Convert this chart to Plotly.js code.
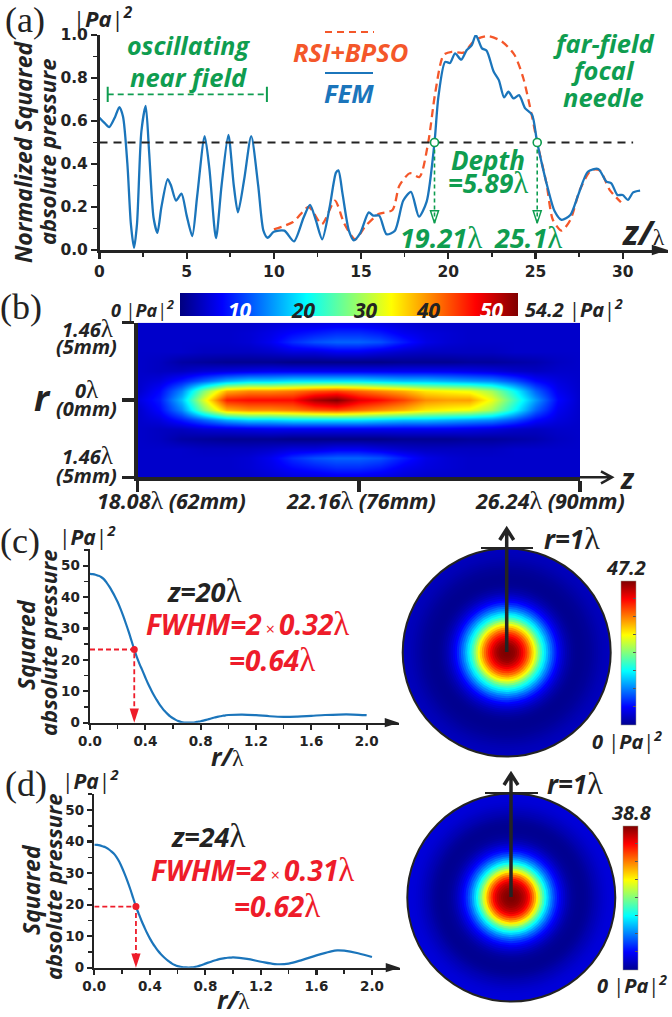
<!DOCTYPE html>
<html><head><meta charset="utf-8">
<script src="https://cdn.plot.ly/plotly-3.0.1.min.js"></script>
<style>html,body{margin:0;padding:0;background:#fff}</style></head>
<body><div id="chart" style="width:672px;height:1017px"></div>
<script>
// ---------- panel (a)
const femZ=[0,0.3,0.56,0.9,1.14,1.35,1.6,1.8,1.98,2.15,2.4,2.65,2.85,3.1,3.32,3.55,3.91,4.1,4.39,4.7,5.0,5.32,5.6,6.03,6.3,6.68,7.0,7.39,7.7,7.94,8.3,8.7,9.1,9.4,9.64,10,10.6,11.15,11.7,12.07,12.4,12.77,13.2,13.56,13.7,13.94,14.3,14.58,14.96,15.44,15.7,16.04,16.46,16.94,17.42,17.86,18.32,18.76,19.21,19.43,19.82,20.1,20.39,20.74,21.06,21.35,21.58,21.93,22.2,22.6,22.9,23.2,23.45,23.74,24.06,24.4,24.8,25.1,25.73,26.1,26.5,27,27.45,28,28.6,29.07,29.35,29.7,30,30.3,30.6,31];
const femP=[0.615,0.59,0.572,0.62,0.665,0.62,0.4,0.12,0.01,0.12,0.55,0.67,0.45,0.15,0.08,0.2,0.33,0.3,0.23,0.262,0.16,0.065,0.25,0.53,0.38,0.055,0.3,0.535,0.3,0.175,0.33,0.53,0.3,0.09,0.057,0.085,0.09,0.04,0.15,0.21,0.14,0.05,0.2,0.36,0.37,0.26,0.09,0.045,0.08,0.175,0.16,0.16,0.073,0.09,0.23,0.27,0.155,0.225,0.5,0.71,0.875,0.87,0.915,0.885,0.93,0.953,1.0,0.938,0.927,0.83,0.79,0.71,0.736,0.705,0.72,0.66,0.63,0.5,0.28,0.18,0.14,0.163,0.256,0.364,0.377,0.318,0.31,0.256,0.256,0.233,0.268,0.276];
const rsiZ=[10,11.1,12,12.75,13.5,14.03,14.66,15.24,16,16.8,17.2,17.8,18.35,18.85,19.25,19.73,20.2,20.87,21.54,22.3,23.07,23.8,24.3,24.78,25.1,25.63,26,26.5,27,27.55,28.2,28.7,29.25,29.9];
const rsiP=[0.096,0.13,0.2,0.12,0.23,0.124,0.05,0.11,0.167,0.186,0.3,0.357,0.34,0.5,0.73,0.907,0.922,0.918,0.977,0.995,0.97,0.907,0.8,0.63,0.5,0.31,0.14,0.09,0.14,0.28,0.372,0.369,0.28,0.222];
const halfLevelZ=[0,30.6], halfLevelP=[0.5,0.5];
const depthZ=[19.21,25.1], depthP=[0.5,0.5], depthTip=[0.125,0.125];
const nearFieldZ=[0.47,9.6], nearFieldP=[0.724,0.724];
const aXTicks=[0,5,10,15,20,25,30], aXMinor=[2.5,7.5,12.5,17.5,22.5,27.5];
const aYTicks=[0,0.2,0.4,0.6,0.8,1.0], aYLabels=['0.0','0.2','0.4','0.6','0.8','1.0'], aYMinor=[0.1,0.3,0.5,0.7,0.9];

// ---------- panel (b): columns at z, rows at r (upper half read, lower half mirrors it)
const bZ=[18.08,18.488,18.896,19.304,19.712,20.12,20.528,20.936,21.344,21.752,22.16,22.568,22.976,23.384,23.792,24.2,24.608,25.016,25.424,25.832,26.24];
const bR=[0,0.1825,0.365,0.5475,0.73,0.9125,1.095,1.2775,1.46];
const row0=[5,8,17,32,46,47,47,47,52,54.2,49,47,44,40,39,39,33,24,15,7,4];
const row1=[4,7,14,27,38,40,40,41,43,44,42,40,38,35,34,33,29,21,12,6,4];
const row2=[4,5,8,12,16,18,18,19,19,19,19,18,17,17,16,15,14,11,7,5,4];
const row3=[4,3.5,3.5,4.5,5,5.5,6,6,6,6,6,6,6,6,6,5.5,5,4,3.5,4,4];
const row4=[4,3.5,2,1.5,1,1,1,0.5,0.5,0.5,0.5,0.5,1,1,1,1.5,1.5,2,2.5,3.5,4];
const row5=[4,4,4,3.5,3.5,3.5,4,5,5,6,6,5,4,3.5,3.5,3.5,3.5,4,4,4,4];
const row6=[4,4,4,4,4,4.5,6,9,11,12,12,11,8,5.5,4.5,4,4,4,4,4,4];
const row7=[4,4,4,4,4,4.5,5.5,7,8,9,9,8,6,5,4.5,4,4,4,4,4,4];
const row8=[4,4,4,4,4,4,4.5,5,5,5.5,5.5,5,4.5,4,4,4,4,4,4,4,4];
const bRows=[row8,row7,row6,row5,row4,row3,row2,row1,row0,row1,row2,row3,row4,row5,row6,row7,row8];
const bRAxis=bR.slice(1).reverse().map(v=>-v).concat(bR);
const bTicks=[18.08,22.16,26.24], bRTicks=[-1.46,0,1.46], bBarTicks=[10,20,30,40,50];

// ---------- panel (c)
const cR=[0,.02,.04,.06,.08,.1,.12,.14,.16,.18,.2,.22,.24,.26,.28,.3,.32,.34,.36,.38,.4,.42,.44,.46,.48,.5,.52,.54,.56,.58,.6,.62,.64,.66,.68,.7,.72,.74,.76,.78,.8,.82,.84,.86,.88,.9,.92,.94,.96,.98,1,1.1,1.2,1.3,1.4,1.5,1.6,1.7,1.8,1.9,2];
const cP=[47.4,47.3,47.1,46.8,46.4,45.7,44.6,43.3,41.8,40.2,38.4,36.3,34,31.5,28.9,26.1,23.3,20.7,18.5,16.5,14.4,12.4,10.6,8.9,7.4,6,4.8,3.7,2.8,2,1.4,.9,.5,.2,.05,0,.02,.06,.15,.3,.45,.65,.9,1.15,1.4,1.65,1.85,2.05,2.2,2.35,2.45,2.6,2.4,2.05,1.85,1.95,2.2,2.45,2.6,2.6,2.4];
// ---------- panel (d)
const dR=[0,.02,.04,.06,.08,.1,.12,.14,.16,.18,.2,.22,.24,.26,.28,.3,.32,.34,.36,.38,.4,.42,.44,.46,.48,.5,.52,.54,.56,.58,.6,.62,.64,.66,.68,.7,.72,.74,.76,.78,.8,.82,.84,.86,.88,.9,.92,.94,.96,.98,1,1.1,1.2,1.3,1.4,1.5,1.6,1.7,1.75,1.8,1.9,2];
const dP=[39,38.95,38.8,38.5,38.2,37.7,37,36.2,35.1,33.6,31.7,29.6,27.3,24.8,22.1,19.4,17.1,14.9,12.9,11,9.3,7.8,6.5,5.3,4.3,3.4,2.6,1.9,1.3,.85,.5,.3,.15,.08,.05,.1,.2,.4,.65,.95,1.3,1.6,1.9,2.2,2.45,2.7,2.9,3.05,3.15,3.2,3.25,2.8,1.9,1.15,1.3,2.5,3.9,5.1,5.5,5.4,4.6,3.4];
const rTicks=[0,0.4,0.8,1.2,1.6,2.0], rLabels=['0.0','0.4','0.8','1.2','1.6','2.0'], rMinor=[0.2,0.6,1.0,1.4,1.8];
const pTicks=[0,10,20,30,40,50], pMinor=[5,15,25,35,45,55];
const cHalf=[0.32,23.3], dHalf=[0.3,19.4];
const aEnd=32.6, cEnd=2.234, dEnd=2.202;

const W=672,H=1017;
const jet=[[0,'#00007f'],[0.125,'#0000ff'],[0.375,'#00ffff'],[0.625,'#ffff00'],[0.875,'#ff0000'],[1,'#7f0000']];
const jetDisc=[[0,'#000090'],[0.125,'#0000ff'],[0.375,'#00ffff'],[0.625,'#ffff00'],[0.875,'#ff0000'],[1,'#7f0000']];
const BLUE='#1b75bb',ORANGE='#f4572a',GREEN='#0f9d50',RED='#ee1c2a',DARK='#232323';
const SANS="'Open Sans', sans-serif",SER="'Liberation Serif', serif",DJV="'DejaVu Sans', sans-serif";
const px=x=>x/W, py=y=>1-y/H;
const lam=s=>`<span style="font-family:${SER};font-weight:normal;font-style:normal${s?';font-size:'+s+'px':''}">λ</span>`;

function axis(dom,ticks,labels,minor,anchor,range,fs,len,mlen,extra){
  return Object.assign({domain:[px(dom[0]),px(dom[1])],range,anchor,tickmode:'array',tickvals:ticks,ticktext:labels,
    showgrid:false,zeroline:false,showline:true,linecolor:DARK,linewidth:2.5,ticks:'outside',ticklen:len,tickwidth:2.2,tickcolor:DARK,
    tickfont:{family:DJV,size:fs,color:DARK,weight:'bold'},
    minor:{tickmode:'array',tickvals:minor,ticks:'outside',ticklen:mlen,tickwidth:1.6,tickcolor:DARK,showgrid:false}},extra||{});
}
function yaxis(dom,ticks,labels,minor,anchor,range,fs,len,mlen){
  const a=axis([0,1],ticks,labels,minor,anchor,range,fs,len,mlen);
  a.domain=[py(dom[1]),py(dom[0])];return a;
}
const notes=[];
function note(t,x,y,size,color,o){
  notes.push(Object.assign({text:t,x:px(x),y:py(y),xref:'paper',yref:'paper',showarrow:false,xanchor:'center',yanchor:'middle',
    font:{family:SANS,size,color,weight:'bold',style:'italic'}},o||{}));
}
function serif(t,x,y,size){note(t,x,y,size,DARK,{font:{family:SER,size,color:DARK,weight:'normal',style:'normal'}});}
const PA='|<b><i>Pa</i></b>|<sup><b><i>2</i></b></sup>';
const paStyle=(t,x,y,s)=>note(t,x,y,s,DARK,{font:{family:SANS,size:s,color:DARK,weight:'normal',style:'normal'}});
const times=`<span style="font-weight:normal;font-style:normal;font-size:16px"> × </span>`;

// (a)
serif('(a)',25,20,36);
paStyle(PA,103,17,22);
note('oscillating',188,45,25,GREEN); note('near field',188,77,25.5,GREEN);
note('RSI+BPSO',350,52,25.5,ORANGE); note('FEM',349,93,25.5,BLUE);
note('far-field',603,43,25.5,GREEN); note('focal',603,70,25.5,GREEN); note('needle',603,97,25.5,GREEN);
note('Depth',488,160,26,GREEN); note('=5.89'+lam(31),488,183,26,GREEN);
note('19.21'+lam(31),441,237,27,GREEN); note('25.1'+lam(31),528,237,27,GREEN);
note('<b>z/</b>'+lam(24),643,232,34,DARK);
note('Normalized Squared',23,152,23,DARK,{textangle:-90});
note('absolute pressure',47,152,22,DARK,{textangle:-90});
// (b)
serif('(b)',21,307,36);
paStyle('<b><i>0</i></b> '+PA,142,309,18);
paStyle('<b><i>54.2</i></b> '+PA,574,308,20);
bBarTicks.forEach((v,i)=>note(String(v),[240,303,366,429,492][i],310,21,(v===10||v===50)?'#ffffff':DARK));
[['1.46'+lam(25),87,329],['(5mm)',86,347],['0'+lam(25),86,390],['(0mm)',86,408],['1.46'+lam(25),87,456],['(5mm)',86,475]].forEach(a=>note(a[0],a[1],a[2],20,DARK));
note('r',42,397,36,DARK);
note('z',627,478,28,DARK);
note('18.08'+lam(26)+' (62mm)',171,500,21.5,DARK);
note('22.16'+lam(26)+' (76mm)',361,500,21.5,DARK);
note('26.24'+lam(26)+' (90mm)',550,500,21.5,DARK);
// (c)
serif('(c)',20,541,36);
paStyle(PA,87,535,21);
note('z=20'+lam(33),204,591,27,DARK);
note('FWHM=2'+times+'0.32'+lam(33),247,624,28,RED);
note('=0.64'+lam(33),272,660,28,RED);
note('Squared',26,645,23,DARK,{textangle:-90}); note('absolute pressure',48,643,22,DARK,{textangle:-90});
note('r/'+lam(24),227,756,25,DARK);
// (d)
serif('(d)',26,784,36);
paStyle(PA,90,779,21);
note('z=24'+lam(33),208,836,27,DARK);
note('FWHM=2'+times+'0.31'+lam(33),252,870,28,RED);
note('=0.62'+lam(33),277,906,28,RED);
note('Squared',31,890,23,DARK,{textangle:-90}); note('absolute pressure',53,887,22,DARK,{textangle:-90});
note('r/'+lam(24),233,999,25,DARK);
// discs
note('r=1'+lam(32),572,538,26,DARK); note('47.2',626,567,20,DARK); paStyle('<b><i>0</i></b> '+PA,627,740,20);
note('r=1'+lam(32),575,783,26,DARK); note('38.8',631,812,20,DARK); paStyle('<b><i>0</i></b> '+PA,632,984,20);

function openArrow(x0,y0,x1,y1,hw,hl,width){
  const dx=Math.sign(x1-x0), dy=Math.sign(y1-y0);
  const ax=x1-dx*hl-dy*hw, ay=y1-dy*hl-dx*hw, bx=x1-dx*hl+dy*hw, by=y1-dy*hl+dx*hw;
  const P=(x,y)=>px(x)+','+py(y);
  return {type:'path',xref:'paper',yref:'paper',path:`M${P(x0,y0)}L${P(x1,y1)}M${P(ax,ay)}L${P(x1,y1)}L${P(bx,by)}`,line:{color:DARK,width}};
}
const shapes=[
 {type:'line',xref:'paper',yref:'paper',x0:px(325),x1:px(374),y0:py(32),y1:py(32),line:{color:ORANGE,width:2,dash:'7px,5px'}},
 {type:'line',xref:'paper',yref:'paper',x0:px(325),x1:px(373),y0:py(73),y1:py(73),line:{color:BLUE,width:2}},
 {type:'line',xref:'paper',yref:'paper',x0:px(481),x1:px(533),y0:py(548),y1:py(548),line:{color:DARK,width:2}},
 {type:'line',xref:'paper',yref:'paper',x0:px(485),x1:px(538),y0:py(793),y1:py(793),line:{color:DARK,width:2}},
 openArrow(580,477.3,612,477.3,6,11,2.5),
 openArrow(506.7,652,506.7,529,7,11,3.5),
 openArrow(511,897,511,774,7,11,3.5),
];

function disc(subplot,rs,vals,cmax,bar){
  const keep=rs.map((r,i)=>i).filter(i=>rs[i]>0&&rs[i]<=1).reverse();
  return {type:'barpolar',subplot,r:keep.map(i=>rs[i]),base:keep.map(()=>0),theta:keep.map(()=>0),width:keep.map(()=>360),
    hoverinfo:'skip',marker:{color:keep.map(i=>vals[i]),colorscale:jetDisc,cmin:0,cmax,line:{width:0},
    colorbar:{x:px(bar[0]),xanchor:'left',y:py((bar[1]+bar[2])/2),yanchor:'middle',len:bar[2]-bar[1],lenmode:'pixels',thickness:15,thicknessmode:'pixels',
      outlinewidth:0.5,outlinecolor:'#998',xpad:0,ypad:0,showticklabels:false,ticks:'inside',ticklen:3,tickcolor:'#555',tickmode:'array',
      tickvals:[0.125,0.25,0.375,0.5,0.625,0.75,0.875].map(f=>f*cmax)}}};
}
const tip=(x,y,xa,ya,angle,size,color)=>({x:[x],y:[y],xaxis:xa,yaxis:ya,mode:'markers',cliponaxis:false,marker:{symbol:'arrow',angle,size,color,line:{width:0}}});

const data=[
 {x:rsiZ,y:rsiP,xaxis:'x',yaxis:'y',mode:'lines',line:{color:ORANGE,width:2.3,dash:'8px,5px',shape:'spline',smoothing:0.7},cliponaxis:false},
 {x:femZ,y:femP,xaxis:'x',yaxis:'y',mode:'lines',line:{color:BLUE,width:2.3,shape:'spline',smoothing:0.7},cliponaxis:false},
 {x:halfLevelZ,y:halfLevelP,xaxis:'x',yaxis:'y',mode:'lines',line:{color:DARK,width:1.8,dash:'8px,6px'}},
 {x:nearFieldZ,y:nearFieldP,xaxis:'x',yaxis:'y',mode:'lines+markers',line:{color:GREEN,width:1.8,dash:'6px,4px'},marker:{symbol:'line-ns',size:11,line:{width:2,color:GREEN}}},
 {x:[depthZ[0],depthZ[0]],y:[depthP[0],depthTip[0]],xaxis:'x',yaxis:'y',mode:'lines',line:{color:GREEN,width:1.6,dash:'4px,3px'}},
 {x:[depthZ[1],depthZ[1]],y:[depthP[1],depthTip[1]],xaxis:'x',yaxis:'y',mode:'lines',line:{color:GREEN,width:1.6,dash:'4px,3px'}},
 {x:depthZ,y:depthTip,xaxis:'x',yaxis:'y',mode:'markers',marker:{symbol:'arrow-open',angle:180,size:13,color:GREEN,line:{width:1.5,color:GREEN}}},
 {x:depthZ,y:depthP,xaxis:'x',yaxis:'y',mode:'markers',marker:{color:'#fff',size:8,line:{color:GREEN,width:1.6}}},
 tip(aEnd,0,'x','y',90,17,DARK),
 {type:'heatmap',x:bZ,y:bRAxis,z:bRows,xaxis:'x2',yaxis:'y2',zsmooth:'best',colorscale:jet,zmin:0,zmax:54.2,hoverinfo:'skip',
  colorbar:{orientation:'h',x:px(349),xanchor:'center',y:py(320),yanchor:'bottom',len:338,lenmode:'pixels',thickness:23,thicknessmode:'pixels',outlinewidth:0,xpad:0,ypad:0,
    showticklabels:false,ticks:'inside',ticklen:4,tickcolor:'#333',tickmode:'array',tickvals:bBarTicks}},
 {x:cR,y:cP,xaxis:'x3',yaxis:'y3',mode:'lines',line:{color:BLUE,width:2.2,shape:'spline'},cliponaxis:false},
 {x:[0,cHalf[0],cHalf[0]],y:[cHalf[1],cHalf[1],3],xaxis:'x3',yaxis:'y3',mode:'lines',line:{color:RED,width:1.8,dash:'5px,3px'}},
 {x:[cHalf[0]],y:[cHalf[1]],xaxis:'x3',yaxis:'y3',mode:'markers',marker:{color:RED,size:7}},
 tip(cHalf[0],0,'x3','y3',180,15,RED),
 tip(cEnd,0,'x3','y3',90,15,DARK),
 {x:dR,y:dP,xaxis:'x4',yaxis:'y4',mode:'lines',line:{color:BLUE,width:2.2,shape:'spline'},cliponaxis:false},
 {x:[0,dHalf[0],dHalf[0]],y:[dHalf[1],dHalf[1],3],xaxis:'x4',yaxis:'y4',mode:'lines',line:{color:RED,width:1.8,dash:'5px,3px'}},
 {x:[dHalf[0]],y:[dHalf[1]],xaxis:'x4',yaxis:'y4',mode:'markers',marker:{color:RED,size:7}},
 tip(dHalf[0],0,'x4','y4',180,15,RED),
 tip(dEnd,0,'x4','y4',90,15,DARK),
 disc('polar',cR,cP,47.2,[620.5,580.7,724.3]),
 disc('polar2',dR,dP,38.8,[622.7,825.7,970]),
];

const polarCommon={barmode:'overlay',bgcolor:'rgba(0,0,0,0)',
  radialaxis:{visible:false,range:[0,1]},
  angularaxis:{showline:true,linecolor:DARK,linewidth:2,showgrid:false,ticks:'',showticklabels:false}};

const layout={width:W,height:H,margin:{l:0,r:0,t:0,b:0},paper_bgcolor:'#fff',plot_bgcolor:'rgba(0,0,0,0)',showlegend:false,
 annotations:notes,shapes,
 xaxis:axis([99.5,668],aXTicks,aXTicks.map(String),aXMinor,'y',[0,aEnd],15.5,6,4),
 yaxis:yaxis([35,250],aYTicks,aYLabels,aYMinor,'x',[0,1],15.5,6,4),
 xaxis2:axis([137.5,580],bTicks,['','',''],[],'y2',[18.08,26.24],10,11,0,{linewidth:3.5,tickwidth:3.5,showticklabels:false}),
 yaxis2:Object.assign(yaxis([322.7,477.3],bRTicks,['','',''],[],'x2',[-1.46,1.46],10,12,0),{linewidth:3.5,tickwidth:3.5,showticklabels:false}),
 xaxis3:axis([90,399],rTicks,rLabels,rMinor,'y3',[0,cEnd],13.5,5,3.5),
 yaxis3:yaxis([549.3,722.7],pTicks,pTicks.map(String),pMinor,'x3',[0,55.2],13.5,5,3.5),
 xaxis4:axis([94.3,400],rTicks,rLabels,rMinor,'y4',[0,dEnd],13.5,5,3.5),
 yaxis4:yaxis([794.3,967.7],pTicks,pTicks.map(String),pMinor,'x4',[0,55],13.5,5,3.5),
 polar:Object.assign({domain:{x:[px(402.7),px(610.7)],y:[py(756.5),py(548.5)]}},polarCommon),
 polar2:Object.assign({domain:{x:[px(407.3),px(615.3)],y:[py(1001.5),py(793.5)]}},polarCommon),
};
Plotly.newPlot('chart',data,layout,{staticPlot:true,displayModeBar:false});
</script></body></html>
